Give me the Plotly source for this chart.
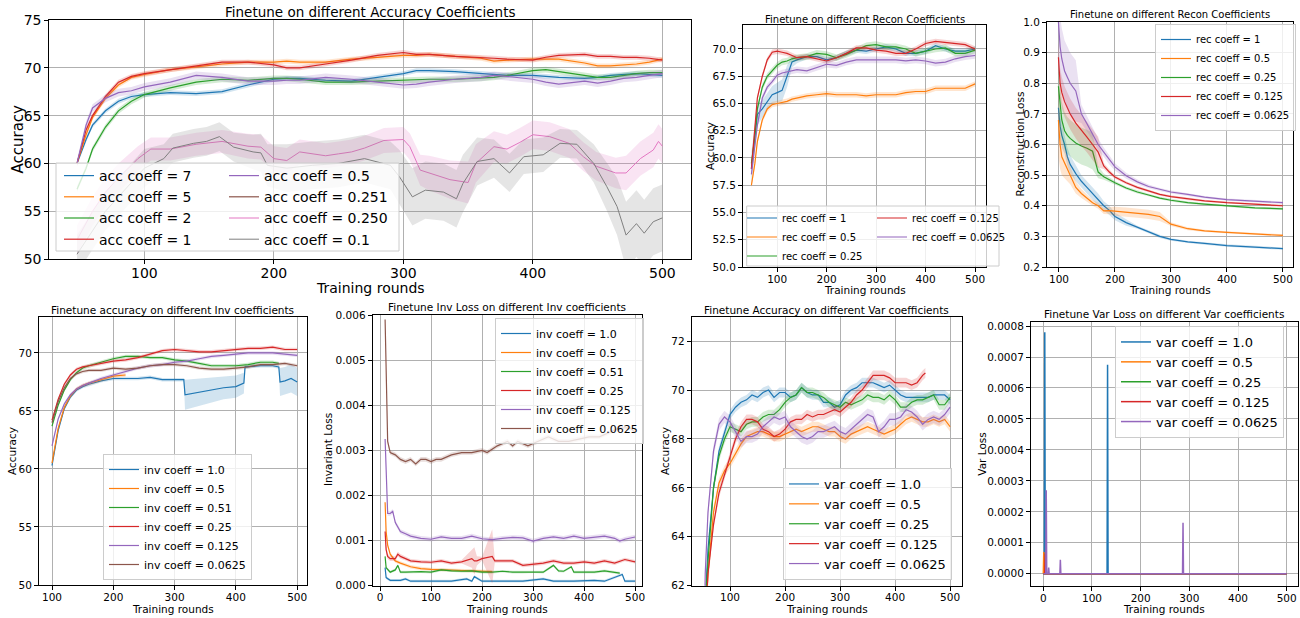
import plotly.graph_objects as go

W, H = 1300, 618
FONT = "DejaVu Sans"


def px(x):
    return x / W


def py(y):
    return 1 - y / H


BLUE, ORANGE, GREEN, RED = "#1f77b4", "#ff7f0e", "#2ca02c", "#d62728"
PURPLE, BROWN, PINK, GRAY = "#9467bd", "#8c564b", "#e377c2", "#7f7f7f"

# ---------------- Panel 1: accuracy coefficients ----------------
tl_x = [48, 55, 60, 70, 80, 90, 100, 120, 140, 160, 180, 200, 210, 220, 240, 260, 280, 300, 310, 320,
        340, 360, 370, 380, 400, 410, 420, 440, 450, 460, 470, 480, 490, 500]
acc7_y = [60, 62.5, 64, 65.5, 66.5, 67, 67.2, 67.4, 67.3, 67.5, 68.2, 68.8, 68.9, 68.9, 68.7, 68.6, 69.0, 69.4,
          69.7, 69.7, 69.6, 69.4, 69.3, 69.2, 69.2, 69.1, 69.0, 68.9, 69.0, 69.2, 69.3, 69.4, 69.3, 69.2]
acc5_y = [60, 63, 64.8, 66.8, 68.2, 69, 69.3, 69.8, 70.1, 70.4, 70.6, 70.6, 70.7, 70.6, 70.6, 70.9, 71.1, 71.3,
          71.3, 71.4, 71.2, 71.0, 70.7, 70.8, 70.9, 70.9, 70.9, 70.5, 70.2, 70.2, 70.3, 70.4, 70.6, 70.9]
acc2_y = [57.3, 59.5, 61.5, 63.8, 65.5, 66.5, 67.2, 67.9, 68.5, 68.8, 68.7, 68.9, 68.9, 68.8, 68.5, 68.5, 68.6,
          68.7, 68.7, 68.8, 68.8, 68.9, 69.0, 69.2, 69.7, 69.8, 69.6, 69.2, 69.0, 69.0, 69.2, 69.4, 69.5, 69.5]
acc1_y = [60, 63.5, 65, 67, 68.5, 69.1, 69.4, 69.8, 70.2, 70.6, 70.6, 70.3, 70.0, 70.0, 70.4, 70.8, 71.3, 71.6,
          71.4, 71.4, 71.2, 71.1, 71.0, 70.9, 70.8, 71.1, 71.3, 71.4, 71.2, 71.2, 71.1, 71.1, 71.0, 70.8]
acc05_y = [60, 64, 65.8, 66.8, 67.4, 67.6, 68.0, 68.5, 69.2, 69.0, 68.6, 68.6, 68.7, 68.7, 69.0, 68.8, 68.5, 68.2,
           68.3, 68.5, 68.8, 69.0, 69.2, 69.1, 68.8, 68.5, 68.3, 68.6, 68.4, 68.6, 68.9, 69.0, 69.2, 69.4]
acc0250_x = [48, 60, 70, 80, 90, 95, 105, 120, 140, 160, 180, 190, 200, 210, 220, 240, 250, 260, 270, 285,
             300, 305, 313, 320, 336, 350, 356, 370, 380, 390, 400, 413, 428, 439, 449, 464, 472, 483, 493, 497, 500]
acc0250_y = [52, 55, 57, 58.5, 59.8, 60.5, 61.5, 61.5, 62.0, 62.3, 61.8, 61.7, 60.5, 60.3, 61.2, 60.8, 61.0,
             61.2, 61.6, 62.4, 62.5, 61.75, 59.3, 59.0, 58.3, 58.0, 60.0, 61.75, 61.5, 62.2, 63.0, 62.8, 62.1,
             60.7, 59.7, 59.0, 59.0, 60.5, 61.4, 62.3, 61.8]
acc0250_s = [1.5, 1.5, 1.5, 1.5, 1.4, 1.3, 1.2, 1.2, 1.2, 1.2, 1.3, 1.3, 1.3, 1.3, 1.3, 1.3, 1.3, 1.3, 1.3, 1.3,
             1.3, 1.4, 1.6, 1.8, 2.0, 2.2, 2.0, 1.6, 1.5, 1.5, 1.5, 1.5, 1.5, 1.5, 1.5, 1.6, 1.8, 1.8, 1.8, 1.8, 1.8]
acc01_x = [48, 60, 70, 80, 90, 100, 115, 122, 138, 148, 158, 169, 184, 190, 195, 210, 230, 250, 270, 290,
           297, 307, 317, 331, 341, 346, 357, 370, 382, 393, 408, 421, 434, 447, 457, 465, 472, 480, 486, 493, 500]
acc01_y = [50.5, 53, 55, 56.5, 58, 59.5, 60.5, 61.6, 62.1, 62.3, 62.8, 61.7, 61.2, 61.1, 59.8, 59.5, 59.8, 60.0,
           60.5, 59.8, 58.6, 56.5, 57.2, 57.0, 56.3, 57.9, 60.2, 60.5, 59.0, 60.7, 60.9, 62.1, 62.0, 60.0, 57.6,
           55.5, 52.5, 53.7, 52.7, 53.9, 54.3]
acc01_s = [2, 2, 2, 2, 2, 2, 1.5, 1.5, 1.5, 1.5, 1.5, 1.5, 1.8, 2, 2.2, 2.5, 2.5, 2.5, 2.5, 2.5,
           2.8, 3, 3, 3, 3, 3, 2.5, 2, 2, 1.8, 1.8, 1.5, 1.5, 2, 2.5, 3, 3.5, 3.5, 3.5, 3.5, 3.5]

# ---------------- Panel 2: recon coefficients (accuracy) ----------------
tm_x = [48, 55, 60, 70, 80, 90, 100, 110, 120, 130, 140, 160, 180, 200, 220, 240, 260, 280, 300, 320, 340,
        360, 380, 400, 420, 440, 460, 480, 500]
rec1_acc = [59, 62, 64, 64.5, 65.2, 65.8, 66, 66.2, 67.5, 68.8, 69.0, 69.3, 69.3, 69.0, 69.2, 69.6, 69.9, 69.8,
            70.0, 70.2, 70.0, 69.6, 69.6, 69.8, 70.3, 70.0, 69.8, 69.8, 70.0]
rec1_acc_s = [1.5, 1.2, 1.0, 0.8, 0.8, 0.8, 0.9, 1.0, 1.0, 0.5, 0.3, 0.25, 0.25, 0.25, 0.25, 0.25, 0.25, 0.25,
              0.25, 0.25, 0.25, 0.25, 0.25, 0.25, 0.25, 0.25, 0.25, 0.25, 0.25]
rec05_acc = [57.5, 59.5, 61.5, 63.5, 64.5, 64.9, 65.0, 65.1, 65.2, 65.4, 65.5, 65.7, 65.8, 65.9, 65.8, 65.8,
             65.8, 65.7, 65.8, 65.8, 65.8, 66.0, 66.1, 66.1, 66.4, 66.4, 66.4, 66.4, 66.8]
rec025_acc = [59.5, 62, 64.5, 66.5, 67.5, 68, 68.5, 68.8, 68.9, 69.1, 69.2, 69.3, 69.6, 69.5, 69.2, 69.5, 69.9,
              70.3, 70.4, 70.2, 70.2, 70.0, 69.6, 69.8, 70.0, 70.1, 69.6, 69.6, 69.9]
rec0125_acc = [59, 63, 65.5, 67.5, 69, 69.7, 69.8, 69.7, 69.6, 69.4, 69.2, 69.3, 69.1, 68.9, 69.2, 69.6, 70.1,
               70.1, 69.9, 69.8, 69.6, 69.6, 70.0, 70.5, 70.7, 70.6, 70.5, 70.4, 70.0]
rec00625_acc = [58.5, 61, 63, 65.5, 66.5, 67, 67.6, 67.8, 67.9, 68.0, 68.1, 68.0, 68.3, 68.6, 68.5, 68.8, 69.0,
                69.0, 69.0, 69.0, 69.0, 68.9, 69.0, 68.9, 68.7, 68.8, 69.1, 69.3, 69.4]

# ---------------- Panel 3: recon coefficients (loss) ----------------
tr_x = [99, 102, 105, 110, 115, 120, 130, 140, 150, 160, 170, 180, 190, 200, 220, 240, 260, 280, 300, 330,
        360, 400, 450, 500]
rec1_loss = [0.72, 0.66, 0.63, 0.60, 0.56, 0.535, 0.505, 0.48, 0.46, 0.44, 0.42, 0.40, 0.385, 0.365, 0.345,
             0.33, 0.315, 0.30, 0.29, 0.282, 0.277, 0.27, 0.265, 0.26]
rec1_loss_s = [0.04, 0.04, 0.04, 0.03, 0.03, 0.03, 0.025, 0.02, 0.02, 0.02, 0.02, 0.015, 0.015, 0.012, 0.01,
               0.005, 0.005, 0.005, 0.004, 0.004, 0.004, 0.004, 0.004, 0.004]
rec05_loss = [0.68, 0.60, 0.56, 0.54, 0.52, 0.50, 0.46, 0.44, 0.425, 0.41, 0.40, 0.383, 0.384, 0.382, 0.379,
              0.376, 0.372, 0.365, 0.34, 0.325, 0.318, 0.313, 0.308, 0.303]
rec05_loss_s = [0.12, 0.08, 0.06, 0.05, 0.04, 0.03, 0.02, 0.015, 0.012, 0.01, 0.01, 0.01, 0.012, 0.015, 0.015,
                0.015, 0.015, 0.015, 0.006, 0.005, 0.004, 0.004, 0.004, 0.004]
rec025_loss = [0.79, 0.72, 0.68, 0.645, 0.63, 0.62, 0.605, 0.595, 0.588, 0.578, 0.51, 0.495, 0.485, 0.475,
               0.458, 0.445, 0.435, 0.425, 0.418, 0.41, 0.405, 0.40, 0.393, 0.39]
rec025_loss_s = [0.06, 0.06, 0.06, 0.06, 0.06, 0.06, 0.06, 0.06, 0.06, 0.06, 0.02, 0.01, 0.008, 0.006, 0.005,
                 0.005, 0.004, 0.004, 0.004, 0.004, 0.004, 0.004, 0.004, 0.004]
rec0125_loss = [0.885, 0.80, 0.77, 0.74, 0.72, 0.70, 0.67, 0.645, 0.624, 0.60, 0.575, 0.53, 0.51, 0.494, 0.475,
                0.46, 0.448, 0.437, 0.43, 0.422, 0.416, 0.41, 0.405, 0.40]
rec0125_loss_s = [0.05, 0.05, 0.05, 0.05, 0.05, 0.05, 0.05, 0.05, 0.05, 0.05, 0.05, 0.01, 0.008, 0.006, 0.005,
                  0.005, 0.004, 0.004, 0.004, 0.004, 0.004, 0.004, 0.004, 0.004]
rec00625_loss = [1.0, 0.92, 0.88, 0.84, 0.82, 0.80, 0.775, 0.70, 0.668, 0.635, 0.60, 0.575, 0.55, 0.527, 0.498,
                 0.478, 0.463, 0.453, 0.445, 0.437, 0.428, 0.42, 0.415, 0.41]
rec00625_loss_s = [0.1, 0.1, 0.1, 0.1, 0.1, 0.1, 0.1, 0.03, 0.025, 0.02, 0.02, 0.015, 0.015, 0.012, 0.01, 0.008,
                   0.006, 0.005, 0.005, 0.005, 0.004, 0.004, 0.004, 0.004]

# ---------------- Panel 4: inv coefficients (accuracy) ----------------
bl_x = [100, 110, 120, 130, 140, 150, 160, 180, 200, 220, 240, 260, 280, 300, 320, 340, 360, 380, 400, 420,
        440, 460, 480, 500]
inv1_x = [100, 110, 120, 130, 140, 150, 160, 180, 200, 220, 240, 260, 280, 300, 315, 317, 340, 360, 380, 400,
          413, 415, 440, 460, 470, 472, 480, 490, 500]
inv1_acc = [60.3, 63.3, 65.2, 66.2, 66.8, 67.1, 67.3, 67.6, 67.8, 67.8, 67.8, 67.9, 67.7, 67.7, 67.7, 66.4,
            66.6, 66.8, 67.0, 67.1, 67.4, 68.8, 68.9, 68.9, 68.8, 67.5, 67.6, 67.8, 67.5]
inv1_acc_s = [0.3, 0.2, 0.15, 0.15, 0.15, 0.15, 0.15, 0.15, 0.15, 0.15, 0.15, 0.15, 0.15, 0.15, 0.15, 1.3,
              1.2, 1.1, 1.0, 0.95, 0.9, 0.15, 0.15, 0.15, 0.15, 1.2, 1.2, 1.2, 1.2]
inv05_x = [100, 110, 120, 130, 140, 150, 160, 180, 200, 220]
inv05_acc = [60.5, 63.5, 65.3, 66.3, 66.9, 67.2, 67.4, 67.7, 68.0, 68.1]
inv051_x = [100, 110, 120, 130, 140, 150, 160, 180, 200, 220, 240, 260, 280, 300, 320, 340, 360, 380, 400,
            420, 440, 460, 470]
inv051_acc = [63.7, 65.5, 66.8, 67.7, 68.3, 68.7, 68.9, 69.2, 69.5, 69.7, 69.7, 69.6, 69.6, 69.4, 69.3, 69.1,
              68.9, 68.9, 68.9, 69.0, 69.2, 69.2, 69.1]
inv025_acc = [64.2, 66.0, 67.3, 68.1, 68.6, 68.8, 68.9, 69.1, 69.3, 69.4, 69.6, 69.9, 70.2, 70.3, 70.2, 70.1,
              70.1, 70.2, 70.3, 70.4, 70.4, 70.5, 70.3, 70.3]
inv0125_acc = [62.0, 64.3, 65.6, 66.4, 66.9, 67.2, 67.4, 67.8, 68.1, 68.4, 68.7, 68.9, 69.0, 69.2, 69.3, 69.5,
               69.7, 69.8, 69.9, 70.0, 70.0, 70.0, 69.9, 69.8]
inv00625_acc = [64.0, 65.8, 67.0, 67.8, 68.2, 68.4, 68.5, 68.5, 68.7, 68.6, 68.7, 68.9, 69.0, 69.0, 68.9, 68.7,
                68.6, 68.6, 68.7, 68.8, 69.0, 69.0, 69.1, 68.9]

# ---------------- Panel 5: inv coefficients (loss) ----------------
inv1_lx = [10, 12, 20, 40, 50, 60, 100, 140, 170, 180, 185, 200, 240, 280, 320, 340, 380, 420, 440, 475, 480, 500]
inv1_loss = [0.0004, 0.00018, 0.00012, 0.00012, 0.00015, 0.0001, 0.0001, 0.0001, 0.00015, 0.0001, 0.0002,
             0.0001, 0.0001, 0.0001, 0.00015, 0.0001, 0.0001, 0.00012, 0.0001, 0.00025, 0.0001, 0.0001]
inv05_lx = [10, 12, 15, 20, 30, 40, 60, 80, 100, 120, 140, 160, 180, 200, 220]
inv05_loss = [0.00185, 0.0012, 0.0009, 0.0007, 0.00055, 0.0005, 0.00042, 0.00038, 0.00036, 0.00035, 0.00035,
              0.00034, 0.00033, 0.00032, 0.00031]
inv051_lx = [10, 12, 20, 30, 35, 40, 50, 80, 100, 120, 140, 160, 180, 200, 220, 240, 260, 280, 300, 320, 340,
             350, 360, 375, 380, 400, 420, 440, 460, 470]
inv051_loss = [0.00065, 0.0004, 0.0003, 0.00035, 0.00045, 0.0003, 0.0003, 0.00031, 0.0003, 0.00035, 0.00033,
               0.00032, 0.00033, 0.0003, 0.0003, 0.00032, 0.0003, 0.0003, 0.00031, 0.0003, 0.00045, 0.00033,
               0.00032, 0.00042, 0.0003, 0.0003, 0.0003, 0.00033, 0.0003, 0.00028]
inv025_lx = [10, 12, 15, 20, 30, 35, 40, 50, 60, 80, 100, 120, 140, 160, 180, 185, 190, 200, 220, 225, 240,
             260, 280, 300, 320, 340, 360, 380, 400, 420, 440, 460, 480, 500]
inv025_loss = [0.0012, 0.0008, 0.00065, 0.0006, 0.0006, 0.0007, 0.00065, 0.0006, 0.00055, 0.00053, 0.00052,
               0.00055, 0.0005, 0.00053, 0.0006, 0.00055, 0.00055, 0.0006, 0.00065, 0.00055, 0.00055, 0.00055,
               0.00045, 0.00048, 0.0005, 0.00055, 0.0005, 0.0005, 0.00053, 0.0005, 0.00055, 0.0005, 0.00058,
               0.00053]
inv025_loss_s = [0.0002, 0.0001, 0.00006, 0.00005, 0.00005, 0.00005, 0.00005, 0.00004, 0.00004, 0.00004,
                 0.00004, 0.00004, 0.00004, 0.00004, 0.0002, 0.0003, 0.0001, 0.00004, 0.0006, 0.00004, 0.00004,
                 0.00004, 0.00004, 0.00004, 0.00004, 0.00004, 0.00004, 0.00004, 0.00004, 0.00004, 0.00004,
                 0.00004, 0.00004, 0.00004]
inv0125_lx = [10, 12, 15, 20, 25, 30, 40, 50, 60, 80, 100, 120, 140, 160, 180, 200, 220, 240, 260, 280, 300,
              320, 340, 360, 380, 400, 420, 440, 460, 470, 480, 500]
inv0125_loss = [0.00325, 0.0025, 0.0016, 0.0016, 0.00165, 0.0014, 0.0012, 0.00115, 0.0011, 0.00105, 0.00103,
                0.00108, 0.00105, 0.00105, 0.0011, 0.00104, 0.00102, 0.00105, 0.00107, 0.00106, 0.00099,
                0.00105, 0.00108, 0.00105, 0.0011, 0.00105, 0.00107, 0.0011, 0.00105, 0.00099, 0.00103, 0.00108]
inv00625_lx = [10, 12, 15, 20, 30, 40, 50, 60, 70, 80, 90, 100, 110, 120, 140, 160, 180, 200, 210, 230, 250,
               260, 270, 290, 310, 330, 350, 370, 390, 410, 430, 450, 470, 480, 490, 500]
inv00625_loss = [0.0059, 0.0045, 0.0032, 0.00295, 0.0029, 0.0028, 0.00275, 0.0028, 0.0027, 0.0028, 0.0028,
                 0.00275, 0.0028, 0.0028, 0.0029, 0.00295, 0.00295, 0.003, 0.00295, 0.0031, 0.0032, 0.0031,
                 0.0032, 0.0031, 0.0032, 0.0033, 0.0032, 0.0032, 0.00325, 0.0033, 0.0033, 0.0034, 0.0035,
                 0.0035, 0.0035, 0.0034]

# ---------------- Panel 6: var coefficients (accuracy) ----------------
b3_x = [50, 55, 60] + list(range(70, 501, 10))
var0125_x = [50, 55, 60] + list(range(70, 451, 10)) + [455]
var1_acc = [56, 61.3, 63.5, 66, 67.5, 68.3, 69.0, 69.3, 69.5, 69.6, 69.8, 69.7, 69.9, 70.0, 69.7, 69.9, 69.9,
            69.7, 69.8, 70.1, 69.9, 69.8, 69.8, 69.5, 69.5, 69.3, 69.4, 69.8, 70.0, 70.1, 70.3, 70.3, 70.3, 70.2,
            70.1, 70.2, 70.0, 69.8, 69.7, 69.7, 69.7, 69.7, 69.7, 69.8, 69.8, 69.8, 69.6]
var05_acc = [56, 60.5, 62.5, 65.0, 66.2, 66.7, 67.0, 67.4, 67.8, 68.1, 68.2, 68.3, 68.3, 68.2, 68.1, 68.1, 68.2,
             68.3, 68.4, 68.3, 68.4, 68.5, 68.5, 68.4, 68.3, 68.3, 68.1, 68.0, 68.2, 68.3, 68.4, 68.5, 68.4, 68.3,
             68.2, 68.3, 68.4, 68.6, 68.8, 68.9, 68.8, 68.7, 68.7, 68.8, 68.7, 68.8, 68.5]
var025_acc = [56, 61.3, 63, 66, 67.3, 68.0, 68.5, 68.4, 68.3, 68.6, 68.7, 68.7, 68.9, 69.0, 69.0, 69.2, 69.5,
              69.7, 69.8, 70.1, 69.9, 69.9, 69.8, 69.7, 69.5, 69.4, 69.3, 69.5, 69.4, 69.5, 69.6, 69.8, 69.7, 69.7,
              69.6, 69.8, 69.6, 69.3, 69.3, 69.5, 69.6, 69.6, 69.7, 69.8, 69.4, 69.4, 69.7]
var0125_acc = [56, 60.5, 62.5, 64.5, 65.8, 66.5, 67.3, 68.0, 68.5, 68.8, 68.8, 68.7, 68.4, 68.3, 68.1, 68.2,
               68.4, 68.7, 68.8, 68.8, 69.0, 68.9, 69.0, 69.0, 69.1, 69.2, 69.1, 69.3, 69.5, 69.8, 70.0, 70.3,
               70.6, 70.6, 70.6, 70.5, 70.3, 70.3, 70.3, 70.2, 70.3, 70.6, 70.7]
var00625_acc = [56, 62.5, 65, 67.5, 68.6, 68.9, 68.7, 68.3, 67.9, 68.1, 68.1, 68.2, 68.5, 68.7, 68.9, 68.8,
                68.9, 68.5, 68.3, 68.1, 68.0, 68.1, 68.3, 68.3, 68.4, 68.5, 68.3, 68.2, 68.4, 68.6, 68.8, 69.0,
                68.9, 68.3, 68.5, 68.8, 68.8, 68.9, 69.2, 69.1, 68.9, 68.6, 68.8, 68.9, 68.8, 69.0, 69.3]

# ---------------- Panel 7: var coefficients (loss) ----------------
var1_lx = [0, 2, 3, 4, 131, 132, 133, 500]
var1_loss = [0, 0, 0.00078, 0, 0, 0.000675, 0, 0]
var05_lx = [0, 1, 2, 500]
var05_loss = [0, 0.00007, 0, 0]
var025_lx = [0, 500]
var025_loss = [0, 0]
var0125_lx = [0, 3, 4, 5, 500]
var0125_loss = [0, 0, 0.000065, 0, 0]
var00625_lx = [0, 5, 6, 7, 10, 11, 12, 34, 35, 36, 286, 287, 288, 500]
var00625_loss = [0, 0, 0.00027, 0, 0, 0.00002, 0, 0, 0.000045, 0, 0, 0.000165, 0, 0]


def rgba(hx, a):
    h = hx.lstrip("#")
    return "rgba(%d,%d,%d,%s)" % (int(h[0:2], 16), int(h[2:4], 16), int(h[4:6], 16), a)


fig = go.Figure()


def add(k, x, y, color, name, legend, std=None, width=1.2, alpha=0.2):
    xa = "x" if k == 1 else "x%d" % k
    ya = "y" if k == 1 else "y%d" % k
    if std is not None:
        s = std if isinstance(std, list) else [std] * len(y)
        up = [a + b for a, b in zip(y, s)]
        lo = [a - b for a, b in zip(y, s)]
        fig.add_trace(go.Scatter(x=list(x) + list(x)[::-1], y=up + lo[::-1], fill="toself",
                                 fillcolor=rgba(color, alpha), line=dict(width=0), mode="lines",
                                 showlegend=False, hoverinfo="skip", xaxis=xa, yaxis=ya))
    fig.add_trace(go.Scatter(x=x, y=y, mode="lines", line=dict(color=color, width=width), name=name,
                             legend=legend, xaxis=xa, yaxis=ya))


# Panel 1
add(1, tl_x, acc7_y, BLUE, "acc coeff = 7", "legend", 0.25)
add(1, tl_x, acc5_y, ORANGE, "acc coeff = 5", "legend", 0.25)
add(1, tl_x, acc2_y, GREEN, "acc coeff = 2", "legend", 0.3)
add(1, tl_x, acc1_y, RED, "acc coeff = 1", "legend", 0.25)
add(1, tl_x, acc05_y, PURPLE, "acc coeff = 0.5", "legend2", 0.4)
add(1, [None], [None], BROWN, "acc coeff = 0.251", "legend2")
add(1, acc0250_x, acc0250_y, PINK, "acc coeff = 0.250", "legend2", acc0250_s, width=1.0)
add(1, acc01_x, acc01_y, GRAY, "acc coeff = 0.1", "legend2", acc01_s, width=1.0)

# Panel 2
add(2, tm_x, rec1_acc, BLUE, "rec coeff = 1", "legend3", rec1_acc_s)
add(2, tm_x, rec05_acc, ORANGE, "rec coeff = 0.5", "legend3", 0.25)
add(2, tm_x, rec025_acc, GREEN, "rec coeff = 0.25", "legend3", 0.3)
add(2, tm_x, rec0125_acc, RED, "rec coeff = 0.125", "legend4", 0.25)
add(2, tm_x, rec00625_acc, PURPLE, "rec coeff = 0.0625", "legend4", 0.3)

# Panel 3
add(3, tr_x, rec1_loss, BLUE, "rec coeff = 1", "legend5", rec1_loss_s)
add(3, tr_x, rec05_loss, ORANGE, "rec coeff = 0.5", "legend5", rec05_loss_s)
add(3, tr_x, rec025_loss, GREEN, "rec coeff = 0.25", "legend5", rec025_loss_s)
add(3, tr_x, rec0125_loss, RED, "rec coeff = 0.125", "legend5", rec0125_loss_s)
add(3, tr_x, rec00625_loss, PURPLE, "rec coeff = 0.0625", "legend5", rec00625_loss_s)

# Panel 4
add(4, inv1_x, inv1_acc, BLUE, "inv coeff = 1.0", "legend6", inv1_acc_s)
add(4, inv05_x, inv05_acc, ORANGE, "inv coeff = 0.5", "legend6", 0.15)
add(4, inv051_x, inv051_acc, GREEN, "inv coeff = 0.51", "legend6", 0.15)
add(4, bl_x, inv025_acc, RED, "inv coeff = 0.25", "legend6", 0.15)
add(4, bl_x, inv0125_acc, PURPLE, "inv coeff = 0.125", "legend6", 0.15)
add(4, bl_x, inv00625_acc, BROWN, "inv coeff = 0.0625", "legend6", 0.15)

# Panel 5
add(5, inv1_lx, inv1_loss, BLUE, "inv coeff = 1.0", "legend7", 0.00003)
add(5, inv05_lx, inv05_loss, ORANGE, "inv coeff = 0.5", "legend7", 0.00004)
add(5, inv051_lx, inv051_loss, GREEN, "inv coeff = 0.51", "legend7", 0.00003)
add(5, inv025_lx, inv025_loss, RED, "inv coeff = 0.25", "legend7", inv025_loss_s)
add(5, inv0125_lx, inv0125_loss, PURPLE, "inv coeff = 0.125", "legend7", 0.00005)
add(5, inv00625_lx, inv00625_loss, BROWN, "inv coeff = 0.0625", "legend7", 0.00005)

# Panel 6
add(6, b3_x, var1_acc, BLUE, "var coeff = 1.0", "legend8", 0.2)
add(6, b3_x, var05_acc, ORANGE, "var coeff = 0.5", "legend8", 0.2)
add(6, b3_x, var025_acc, GREEN, "var coeff = 0.25", "legend8", 0.2)
add(6, var0125_x, var0125_acc, RED, "var coeff = 0.125", "legend8", 0.2)
add(6, b3_x, var00625_acc, PURPLE, "var coeff = 0.0625", "legend8", 0.25)

# Panel 7
add(7, var1_lx, var1_loss, BLUE, "var coeff = 1.0", "legend9", width=1.5)
add(7, var05_lx, var05_loss, ORANGE, "var coeff = 0.5", "legend9", width=1.5)
add(7, var025_lx, var025_loss, GREEN, "var coeff = 0.25", "legend9", width=1.5)
add(7, var0125_lx, var0125_loss, RED, "var coeff = 0.125", "legend9", width=1.5)
add(7, var00625_lx, var00625_loss, PURPLE, "var coeff = 0.0625", "legend9", width=1.5)


def axis(dom, anchor, rng, tickvals, size, fmt=None, standoff=0):
    d = dict(domain=dom, anchor=anchor, range=rng, tickmode="array", tickvals=tickvals,
             showline=True, mirror=True, linecolor="black", linewidth=1,
             ticks="outside", ticklen=4, tickwidth=1, tickcolor="black",
             showgrid=True, gridcolor="#b0b0b0", gridwidth=1, zeroline=False, automargin=False,
             ticklabelstandoff=standoff,
             tickfont=dict(size=size, color="black", family=FONT))
    if fmt:
        d["tickformat"] = fmt
    return d


X100 = [100, 200, 300, 400, 500]
X0 = [0, 100, 200, 300, 400, 500]
layout_axes = {
    "xaxis": axis([px(49.3), px(690.7)], "y", [26.6, 521.9], X100, 14, standoff=-3),
    "yaxis": axis([py(259), py(20)], "x", [50, 75], [50, 55, 60, 65, 70, 75], 14),
    "xaxis2": axis([px(743), px(986)], "y2", [31, 522], X100, 10.5, standoff=-2),
    "yaxis2": axis([py(267), py(25)], "x2", [50, 72.2], [50, 52.5, 55, 57.5, 60, 62.5, 65, 67.5, 70], 10.5, ".1f"),
    "xaxis3": axis([px(1047), px(1293)], "y3", [78.6, 518], X100, 10.5, standoff=-2),
    "yaxis3": axis([py(267), py(22)], "x3", [0.2, 1.0], [0.2, 0.3, 0.4, 0.5, 0.6, 0.7, 0.8, 0.9, 1.0], 10.5, ".1f"),
    "xaxis4": axis([px(39), px(307)], "y4", [78.8, 516], X100, 10.5, standoff=-2),
    "yaxis4": axis([py(585), py(317)], "x4", [50, 73.1], [50, 55, 60, 65, 70], 10.5),
    "xaxis5": axis([px(372.7), px(641.7)], "y5", [-14.3, 513], X0, 10.5, standoff=-2),
    "yaxis5": axis([py(585.7), py(315)], "x5", [0, 0.006],
                   [0, 0.001, 0.002, 0.003, 0.004, 0.005, 0.006], 10.5, ".3f"),
    "xaxis6": axis([px(691.7), px(961.7)], "y6", [30.4, 521], X100, 10.5, standoff=-2),
    "yaxis6": axis([py(585.7), py(316.7)], "x6", [62, 73], [62, 64, 66, 68, 70, 72], 10.5),
    "xaxis7": axis([px(1031), px(1297.7)], "y7", [-25.3, 522.6], X0, 10.5, standoff=-2),
    "yaxis7": axis([py(586), py(321.7)], "x7", [-0.0000395, 0.000814],
                   [0, 0.0001, 0.0002, 0.0003, 0.0004, 0.0005, 0.0006, 0.0007, 0.0008], 10.5, ".4f"),
}


def leg(x, y, size, yanchor="top", box=True):
    return dict(x=px(x), y=py(y), xanchor="left", yanchor=yanchor,
                font=dict(size=size, family=FONT, color="black"),
                bgcolor="rgba(255,255,255,0.8)" if box else "rgba(0,0,0,0)",
                bordercolor="#cccccc" if box else "rgba(0,0,0,0)",
                borderwidth=1 if box else 0, tracegroupgap=0, itemwidth=30,
                traceorder="normal")


def ann(text, x, y, size, angle=0):
    return dict(text=text, x=px(x), y=py(y), xref="paper", yref="paper", showarrow=False,
                xanchor="center", yanchor="middle", textangle=angle,
                font=dict(size=size, family=FONT, color="black"))


annotations = [
    ann("Finetune on different Accuracy Coefficients", 370, 12, 13.5),
    ann("Accuracy", 17, 139.5, 15, -90),
    ann("Training rounds", 370, 288, 14),
    ann("Finetune on different Recon Coefficients", 864.5, 19, 10),
    ann("Accuracy", 710, 146, 10.5, -90),
    ann("Training rounds", 864.5, 290, 10.5),
    ann("Finetune on different Recon Coefficients", 1170, 15, 10),
    ann("Reconstruction Loss", 1020, 144.5, 10.5, -90),
    ann("Training rounds", 1170, 290, 10.5),
    ann("Finetune accuracy on different Inv coefficients", 173, 310, 10.5),
    ann("Accuracy", 12, 451, 10.5, -90),
    ann("Training rounds", 173, 609, 10.5),
    ann("Finetune Inv Loss on different Inv coefficients", 507, 306.5, 10.5),
    ann("Invariant Loss", 328, 450, 10.5, -90),
    ann("Training rounds", 507, 609, 10.5),
    ann("Finetune Accuracy on different Var coefficients", 826.7, 310, 10.5),
    ann("Accuracy", 665, 451, 10.5, -90),
    ann("Training rounds", 826.7, 609, 10.5),
    ann("Finetune Var Loss on different Var coefficients", 1164, 314, 10.5),
    ann("Var Loss", 981.7, 454, 10.5, -90),
    ann("Training rounds", 1164, 609, 10.5),
]


def box(x0, y0, x1, y1):
    return dict(type="rect", xref="paper", yref="paper", x0=px(x0), x1=px(x1), y0=py(y1), y1=py(y0),
                fillcolor="rgba(255,255,255,0.8)", line=dict(color="#cccccc", width=1), layer="above")


fig.update_layout(
    width=W, height=H, margin=dict(l=0, r=0, t=0, b=0, pad=0, autoexpand=False),
    paper_bgcolor="white", plot_bgcolor="white",
    font=dict(family=FONT, color="black"),
    annotations=annotations,
    shapes=[box(56, 163, 399, 251), box(746.7, 206, 999, 266)],
    legend=leg(59, 160, 14, box=False),
    legend2=leg(224, 160, 14, box=False),
    legend3=leg(742, 203.5, 10, box=False),
    legend4=leg(872, 203.5, 10, box=False),
    legend5=leg(1155, 24, 10),
    legend6=leg(103, 580, 11, yanchor="bottom"),
    legend7=leg(495, 318, 11),
    legend8=leg(783, 580, 13, yanchor="bottom"),
    legend9=leg(1115, 326, 13),
    **layout_axes,
)

fig.write_html("out.html", config={"displayModeBar": False},
               post_script="document.body.style.margin='0px';document.body.style.overflow='hidden';")
